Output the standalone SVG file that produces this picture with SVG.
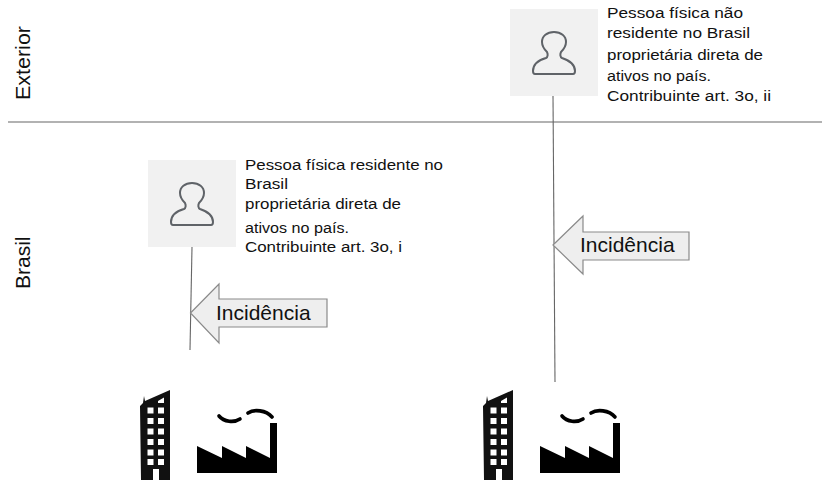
<svg xmlns="http://www.w3.org/2000/svg" width="822" height="480" viewBox="0 0 822 480">
<style>
text{font-family:"Liberation Sans",Arial,sans-serif;fill:#111}
.t{font-size:14.900px}
.side{font-size:21px}
.inc{font-size:21px}
.box{fill:#f1f1f1}
.line{stroke:#666;stroke-width:1.100;fill:none}
.arrow{fill:#eeeeee;stroke:#8a8a8a;stroke-width:1.200;stroke-linejoin:miter}
.person{fill:none;stroke:#5f6368;stroke-width:2}
.smoke{fill:none;stroke:#000;stroke-width:3.600;stroke-linecap:round}
</style>
<defs>
<g id="icon-person">
<rect class="box" x="0" y="0" width="88" height="87"/>
<path class="person" d="M25 65L63 65Q65 65 65 62C65 55 58 51 52 49C50 48 50 45 51 43C54 40 56 36 56 33C56 27 51 23 44 23C37 23 32 27 32 33C32 37 34 40 37 43C38 45 38 48 36 49C29 51 23 55 23 62Q23 65 25 65Z"/>
</g>
<g id="icon-building">
<path fill="#111" fill-rule="evenodd" d="M140 406L143 403L144 396L145 401L170 390L170 480L159 480L159 469L153 469L153 480L141 480Z
M147.500 407.500h6v6h-6zM158 407.500h6v6h-6zM147.500 418h6v6h-6zM158 418h6v6h-6zM147.500 428.500h6v6h-6zM158 428.500h6v6h-6zM147.500 439h6v6h-6zM158 439h6v6h-6zM147.500 449.500h6v6h-6zM158 449.500h6v6h-6zM147.500 459h6v6h-6zM158 459h6v6h-6zM158 401L164 397.500L164 403L158 403Z"/>
</g>
<g id="icon-factory">
<path fill="#000" d="M197 446L222 458L222 446L246 458L246 446L270 458L270 423L277 423L277 473L197 473Z"/>
<path class="smoke" d="M219 416C224 422 234 423 240 419"/>
<path class="smoke" d="M248 413C254 409 266 410 272 417"/>
</g>
</defs>
<g id="connectors">
<line class="line" x1="8" y1="122" x2="822" y2="122"/>
<line class="line" x1="192" y1="247" x2="190" y2="350"/>
<line class="line" x1="553" y1="96" x2="555" y2="382"/>
</g>
<g id="label-exterior"><text class="side" transform="translate(29.500,100) rotate(-90)" textLength="74" lengthAdjust="spacingAndGlyphs">Exterior</text></g>
<g id="label-brasil"><text class="side" transform="translate(29.500,289) rotate(-90)">Brasil</text></g>
<g id="person-residente">
<use href="#icon-person" x="148" y="160"/>
<text class="t" x="245" y="170" textLength="198" lengthAdjust="spacingAndGlyphs">Pessoa física residente no</text>
<text class="t" x="245" y="189" textLength="43" lengthAdjust="spacingAndGlyphs">Brasil</text>
<text class="t" x="245" y="209" textLength="156" lengthAdjust="spacingAndGlyphs">proprietária direta de</text>
<text class="t" x="245" y="233" textLength="104" lengthAdjust="spacingAndGlyphs">ativos no país.</text>
<text class="t" x="245" y="252" textLength="157" lengthAdjust="spacingAndGlyphs">Contribuinte art. 3o, i</text>
</g>
<g id="person-nao-residente">
<use href="#icon-person" x="510" y="9"/>
<text class="t" x="607" y="18" textLength="136" lengthAdjust="spacingAndGlyphs">Pessoa física não</text>
<text class="t" x="607" y="38" textLength="143" lengthAdjust="spacingAndGlyphs">residente no Brasil</text>
<text class="t" x="607" y="60" textLength="156" lengthAdjust="spacingAndGlyphs">proprietária direta de</text>
<text class="t" x="607" y="81" textLength="104" lengthAdjust="spacingAndGlyphs">ativos no país.</text>
<text class="t" x="607" y="101" textLength="164" lengthAdjust="spacingAndGlyphs">Contribuinte art. 3o, ii</text>
</g>
<g id="arrow-incidencia-1">
<path class="arrow" d="M190.500 313L219 284L219 299L327 299L327 327L219 327L219 343Z"/>
<text class="inc" x="216" y="320">Incidência</text>
</g>
<g id="arrow-incidencia-2">
<path class="arrow" d="M553 245L583 216L583 232L689 232L689 260L583 260L583 274Z"/>
<text class="inc" x="580" y="252">Incidência</text>
</g>
<g id="ativos-1">
<use href="#icon-building"/>
<use href="#icon-factory"/>
</g>
<g id="ativos-2">
<use href="#icon-building" x="343"/>
<use href="#icon-factory" x="343"/>
</g>
</svg>
